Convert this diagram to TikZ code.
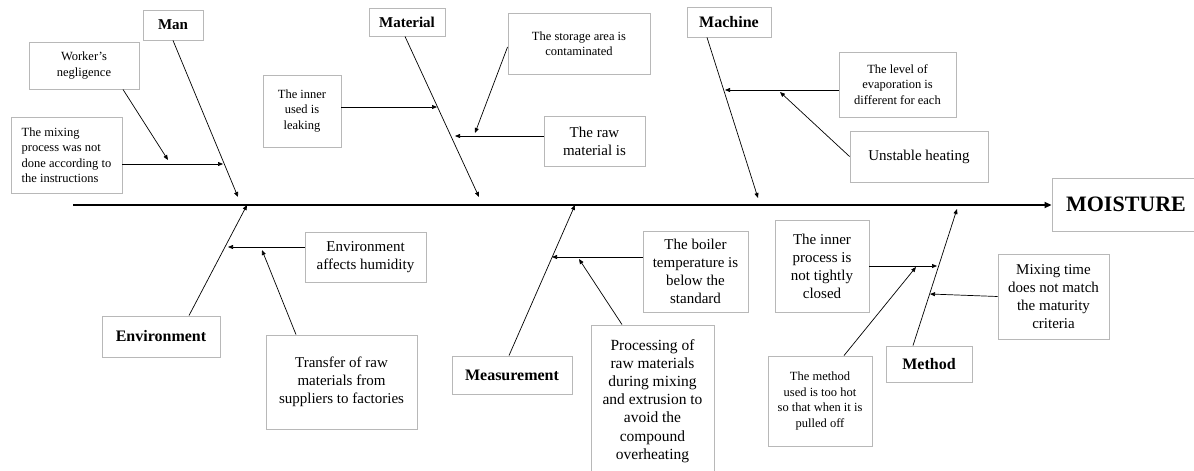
\documentclass[tikz,border=0pt]{standalone}
\usepackage{fontspec}
\setmainfont{Liberation Serif}
\usepackage{tikz}
\usetikzlibrary{arrows.meta, calc}

\begin{document}
\begin{tikzpicture}[x=1pt, y=-1pt,
    box/.style    = {draw=black!28, line width=0.9pt, fill=white,
                     inner sep=0pt, align=center},
    category/.style = {box, font=\fontsize{16}{19}\selectfont\bfseries},
    effect/.style   = {box, font=\fontsize{22}{26}\selectfont\bfseries},
    small/.style    = {box, font=\fontsize{12.5}{15.5}\selectfont},
    big/.style      = {box, font=\fontsize{15}{18}\selectfont},
    bone/.style     = {line width=0.7pt, -{Triangle[length=5pt,width=4pt]}},
    spine/.style    = {line width=2.3pt, -{Triangle[length=7pt,width=6pt]}},
  ]
  \useasboundingbox[fill=white] (0,0) rectangle (1194,471);

  % effect and main categories
  \node[effect, minimum width=148, minimum height=53] (moist) at (1126,204.5) {MOISTURE};
  \node[category, font=\fontsize{15}{18}\selectfont\bfseries,
        minimum width=60, minimum height=30] (man) at (173,25) {Man};
  \node[category, font=\fontsize{15}{18}\selectfont\bfseries,
        minimum width=76, minimum height=28] (mat) at (407,22) {Material};
  \node[category, minimum width=84, minimum height=30] (mach) at (729,22) {Machine};
  \node[category, minimum width=118, minimum height=41] (env) at (161,336.5) {Environment};
  \node[category, minimum width=120, minimum height=38] (meas) at (512,375) {Measurement};
  \node[category, minimum width=86, minimum height=36] (meth) at (929,364) {Method};

  % causes
  \node[small, minimum width=110, minimum height=47] (wn) at (84,65.5) {Worker's\\negligence};
  \node[small, align=left, minimum width=111, minimum height=76] (mp) at (66.5,155)
    {The mixing\\process was not\\done according to\\the instructions};
  \node[small, minimum width=78, minimum height=72] (iu) at (302,111) {The inner\\used is\\leaking};
  \node[small, minimum width=142, minimum height=61] (sa) at (579,43.5) {The storage area is\\contaminated};
  \node[big, minimum width=101, minimum height=50] (rm) at (594.5,141) {The raw\\material is};
  \node[small, minimum width=117, minimum height=65] (le) at (897.5,84.5)
    {The level of\\evaporation is\\different for each};
  \node[big, minimum width=138, minimum height=51] (uh) at (919,156.5) {Unstable heating};
  \node[big, minimum width=121, minimum height=50] (eh) at (365.5,257) {Environment\\affects humidity};
  \node[big, minimum width=151, minimum height=94] (tr) at (341.5,382)
    {Transfer of raw\\materials from\\suppliers to factories};
  \node[big, minimum width=105, minimum height=81] (bt) at (695.5,271.5)
    {The boiler\\temperature is\\below the\\standard};
  \node[big, font=\fontsize{15.5}{18.2}\selectfont,
        minimum width=123, minimum height=152] (pr) at (652.5,401)
    {Processing of\\raw materials\\during mixing\\and extrusion to\\avoid the\\compound\\overheating};
  \node[big, minimum width=94, minimum height=92] (ip) at (822,266)
    {The inner\\process is\\not tightly\\closed};
  \node[big, minimum width=111, minimum height=85] (mt) at (1053.5,296.5)
    {Mixing time\\does not match\\the maturity\\criteria};
  \node[small, minimum width=104, minimum height=90] (mu) at (820,401)
    {The method\\used is too hot\\so that when it is\\pulled off};

  % spine
  \coordinate (s0) at (73,205);
  \draw[spine] (s0) -- (s0 -| moist.west);

  % bones
  \coordinate (bMan) at (238,197);
  \coordinate (bMat) at (479,197);
  \coordinate (bMach) at (758,198);
  \coordinate (bEnv) at (247,205);
  \coordinate (bMeas) at (575,205);
  \coordinate (bMeth) at (957,209);
  \draw[bone] (man.south) -- (bMan);
  \draw[bone] ([xshift=-2pt]mat.south) -- (bMat);
  \draw[bone] ([xshift=-22pt]mach.south) -- (bMach);
  \draw[bone] ([xshift=28pt]env.north) -- (bEnv);
  \draw[bone] ([xshift=-3pt]meas.north) -- (bMeas);
  \draw[bone] ([xshift=-16pt]meth.north) -- (bMeth);

  % cause arrows
  \coordinate (tMP) at (223,164);
  \coordinate (tWN) at (168,160);
  \coordinate (tIU) at (437,107);
  \coordinate (tRM) at (455,136);
  \coordinate (tSA) at (475,133);
  \coordinate (tLE) at (725,90);
  \coordinate (tUH) at (780,92);
  \coordinate (tEH) at (228,247);
  \coordinate (tTR) at (262,250);
  \coordinate (tBT) at (552,257);
  \coordinate (tPR) at (579,259);
  \coordinate (tIP) at (937,266);
  \coordinate (tMT) at (930,294);
  \coordinate (tMU) at (916,267);
  \draw[bone] (mp.east |- tMP) -- (tMP);
  \draw[bone] ([xshift=39pt]wn.south) -- (tWN);
  \draw[bone] (iu.east |- tIU) -- (tIU);
  \draw[bone] (rm.west |- tRM) -- (tRM);
  \draw[bone] ([yshift=-3.5pt]sa.west) -- (tSA);
  \draw[bone] (le.west |- tLE) -- (tLE);
  \draw[bone] (uh.west) -- (tUH);
  \draw[bone] (eh.west |- tEH) -- (tEH);
  \draw[bone] ([xshift=-45.5pt]tr.north) -- (tTR);
  \draw[bone] (bt.west |- tBT) -- (tBT);
  \draw[bone] ([xshift=-30.5pt]pr.north) -- (tPR);
  \draw[bone] (ip.east |- tIP) -- (tIP);
  \draw[bone] (mt.west) -- (tMT);
  \draw[bone] ([xshift=24pt]mu.north) -- (tMU);
\end{tikzpicture}
\end{document}
